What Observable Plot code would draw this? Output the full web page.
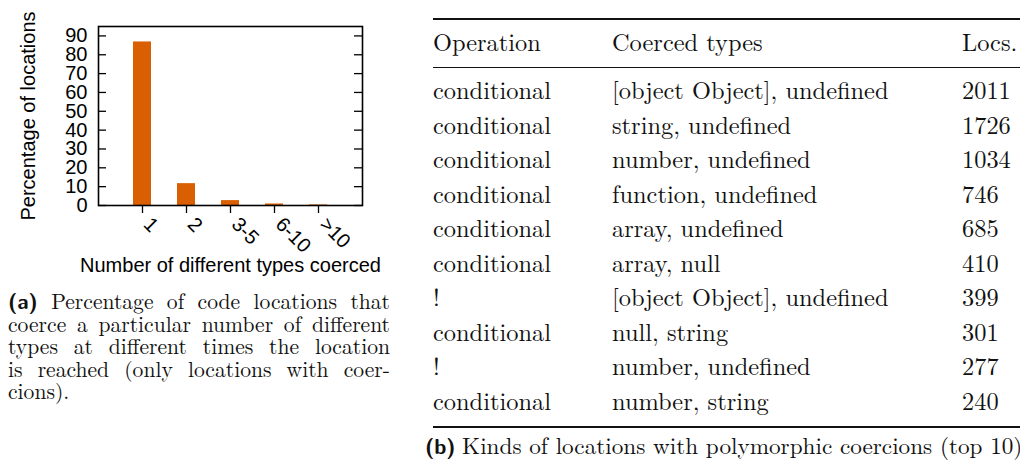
<!DOCTYPE html>
<html>
<head>
<meta charset="utf-8">
<script src="https://cdn.jsdelivr.net/npm/d3@7"></script>
<script src="https://cdn.jsdelivr.net/npm/@observablehq/plot@0.6"></script>
</head>
<body style="margin:0;padding:0;background:#fff;width:1020px;height:461px;overflow:hidden;position:relative;">
<div id="chart" style="position:absolute;left:0;top:0;"></div>
<div id="texts" style="position:absolute;left:0;top:0;width:1020px;height:461px;"></div>
<script>
// ---- Bar chart data ----
const categories = ["1", "2", "3-5", "6-10", ">10"];
const percentages = [86.8, 11.6, 2.6, 0.8, 0.3];
const yTicks = [0, 10, 20, 30, 40, 50, 60, 70, 80, 90];
const xTitle = "Number of different types coerced";
const yTitle = "Percentage of locations";

// ---- Table data ----
const headers = ["Operation", "Coerced types", "Locs."];
const operations = ["conditional", "conditional", "conditional", "conditional", "conditional",
                    "conditional", "!", "conditional", "!", "conditional"];
const coercedTypes = ["[object Object], undefined", "string, undefined", "number, undefined",
                      "function, undefined", "array, undefined", "array, null",
                      "[object Object], undefined", "null, string", "number, undefined", "number, string"];
const locations = [2011, 1726, 1034, 746, 685, 410, 399, 301, 277, 240];

// ---- Captions ----
const captionALabel = "(a)";
const captionA = [
  "Percentage of code locations that",
  "coerce a particular number of different",
  "types at different times the location",
  "is reached (only locations with coer-",
  "cions)."
];
const captionBLabel = "(b)";
const captionB = "Kinds of locations with polymorphic coercions (top 10)";

const barData = categories.map((c, i) => ({cat: c, pct: percentages[i]}));

const chart = Plot.plot({
  width: 400,
  height: 290,
  marginLeft: 98,
  marginRight: 38,
  marginTop: 26,
  marginBottom: 85,
  style: {fontFamily: "'Liberation Sans', Arial, sans-serif", fontSize: "20px", background: "transparent", color: "#000"},
  x: {type: "band", domain: categories, paddingInner: 0.6, paddingOuter: 0.8, axis: null},
  y: {domain: [0, 95], axis: null},
  marks: [
    Plot.barY(barData, {x: "cat", y: "pct", fill: "#d95f02"}),
    Plot.tickY(yTicks, {y: d => d, insetRight: 256, stroke: "#000", strokeWidth: 1.3}),
    Plot.tickY(yTicks, {y: d => d, insetLeft: 256, stroke: "#000", strokeWidth: 1.3}),
    Plot.tickX(categories, {x: d => d, insetTop: 179, insetBottom: -8, stroke: "#000", strokeWidth: 1.3}),
    Plot.text(yTicks, {y: d => d, frameAnchor: "left", dx: -11, textAnchor: "end", fontSize: 20, fill: "#000"}),
    Plot.text(categories, {x: d => d, frameAnchor: "bottom", dy: 20, rotate: 45, textAnchor: "start", fontSize: 20, fill: "#000"}),
    Plot.text([yTitle], {frameAnchor: "left", dx: -70, rotate: -90, textAnchor: "middle", fontSize: 20, fill: "#000"}),
    Plot.text([xTitle], {frameAnchor: "bottom", dy: 66, textAnchor: "middle", fontSize: 20, fill: "#000"}),
    Plot.frame({stroke: "#000", strokeWidth: 1.6})
  ]
});
document.getElementById("chart").appendChild(chart);

// ---- Text layout helpers (inline styles) ----
const root = document.getElementById("texts");
const SERIF = "'Latin Modern Roman', 'Liberation Serif', serif";
const BOLDSANS = "'Latin Modern Sans', 'Liberation Sans', sans-serif";
const INK = "#111";

function marker() {
  const m = document.createElement("span");
  Object.assign(m.style, {display: "inline-block", width: "0px", height: "0px", verticalAlign: "baseline"});
  return m;
}
function setBaseline(el, m, baseline) {
  el.style.top = "0px";
  const off = m.getBoundingClientRect().bottom - el.getBoundingClientRect().top;
  el.style.top = (baseline - off) + "px";
}
function word(text, family, size, bold) {
  const s = document.createElement("span");
  s.textContent = text;
  Object.assign(s.style, {fontFamily: family, fontSize: size + "px", fontWeight: bold ? "bold" : "normal",
                          color: INK, whiteSpace: "pre", lineHeight: "1", display: "inline-block"});
  return s;
}
const layouts = [];
function placeText(text, left, baseline, size) {
  const el = document.createElement("div");
  Object.assign(el.style, {position: "absolute", left: left + "px", top: "0px", whiteSpace: "nowrap",
                           fontFamily: SERIF, fontSize: size + "px", color: INK, lineHeight: "normal"});
  el.textContent = text;
  const m = marker();
  el.appendChild(m);
  root.appendChild(el);
  layouts.push(() => setBaseline(el, m, baseline));
}
function placeLine(items, left, width, baseline, justify, gap) {
  const el = document.createElement("div");
  Object.assign(el.style, {position: "absolute", left: left + "px", top: "0px", whiteSpace: "nowrap",
                           lineHeight: "1", display: "flex", alignItems: "baseline"});
  if (justify) {
    Object.assign(el.style, {justifyContent: "space-between", width: width + "px"});
  } else {
    el.style.columnGap = gap + "px";
  }
  items.forEach(s => el.appendChild(s));
  const m = marker();
  items[0].appendChild(m);
  root.appendChild(el);
  layouts.push(() => setBaseline(el, m, baseline));
}
function rule(top, h, left, width) {
  const r = document.createElement("div");
  Object.assign(r.style, {position: "absolute", left: left + "px", top: top + "px", width: width + "px",
                          height: h + "px", background: INK});
  root.appendChild(r);
}

// ---- Caption (a) ----
const capSize = 21.6;
captionA.forEach((line, i) => {
  const words = line.split(" ").map(w => word(w, SERIF, capSize, false));
  if (i === 0) words.unshift(word(captionALabel, BOLDSANS, capSize, true));
  placeLine(words, 8, 382, 309.3 + 22.4 * i, i < captionA.length - 1, 6.5);
});

// ---- Table ----
const tblSize = 24.4;
const colX = [433, 612, 962];
rule(18.3, 2, 433, 600);
headers.forEach((h, j) => placeText(h, colX[j], 51, tblSize));
rule(66.6, 1.3, 433, 600);
operations.forEach((op, i) => {
  const b = 99.3 + 34.5 * i;
  placeText(op, colX[0], b, tblSize);
  placeText(coercedTypes[i], colX[1], b, tblSize);
  placeText(String(locations[i]), colX[2], b, tblSize);
});
rule(425.7, 2, 433, 600);

// ---- Caption (b) ----
const capBWords = [word(captionBLabel, BOLDSANS, capSize, true), word(captionB, SERIF, 23.2, false)];
placeLine(capBWords, 425, 0, 454, false, 6.5);

function runLayout() { layouts.forEach(f => f()); }
runLayout();
if (document.fonts && document.fonts.ready) document.fonts.ready.then(runLayout);
</script>
</body>
</html>
